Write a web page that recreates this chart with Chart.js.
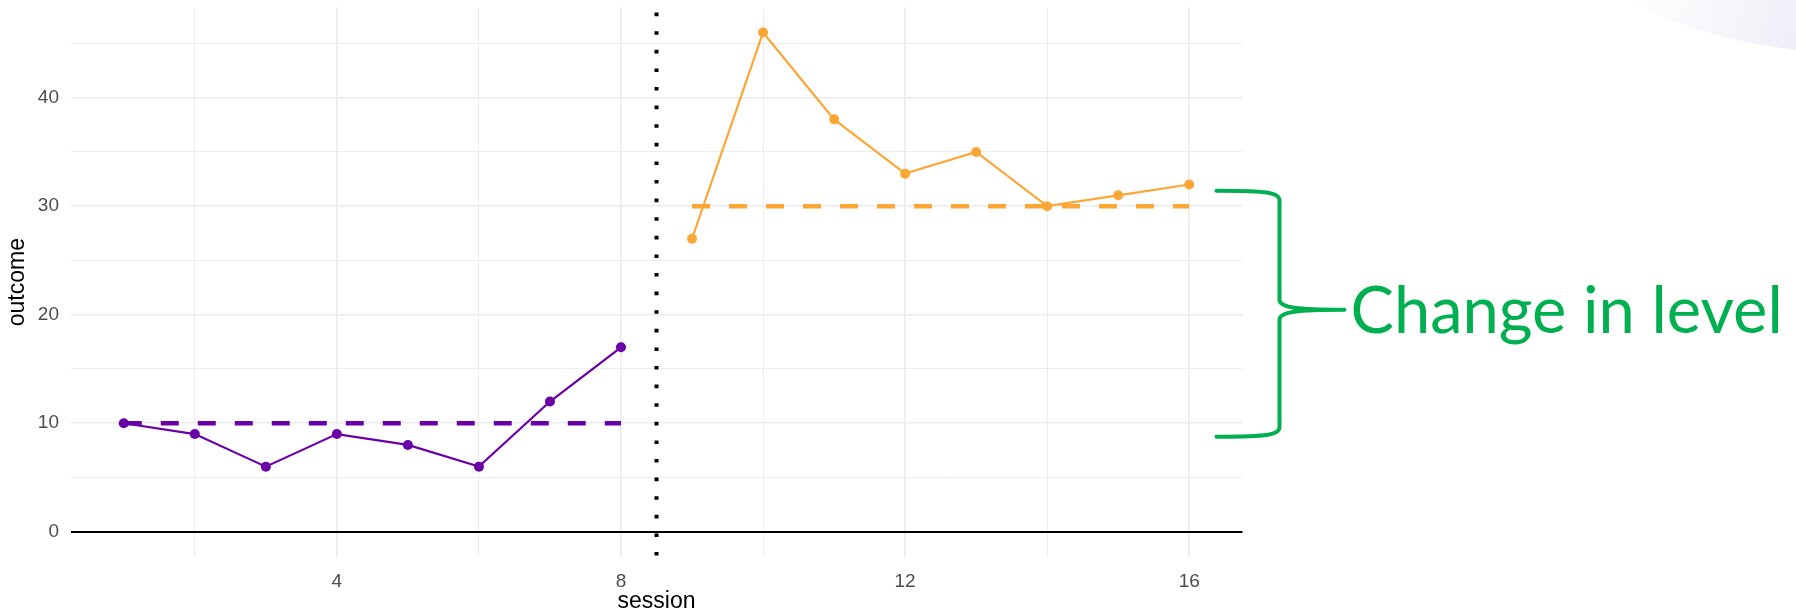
<!DOCTYPE html>
<html>
<head>
<meta charset="utf-8">
<script src="https://cdn.jsdelivr.net/npm/chart.js@4.4.0/dist/chart.umd.min.js"></script>
<style>
  body { margin: 0; background: #fff; }
  canvas { display: block; }
</style>
</head>
<body>
<canvas id="myChart" width="1796" height="611"></canvas>
<script>
// baseline (A) and treatment (B) phases
const baseSessions = [1, 2, 3, 4, 5, 6, 7, 8];
const baseOutcome = [10, 9, 6, 9, 8, 6, 12, 17];
const treatSessions = [9, 10, 11, 12, 13, 14, 15, 16];
const treatOutcome = [27, 46, 38, 33, 35, 30, 31, 32];

// phase levels (dashed lines)
const baseLevel = 10;
const treatLevel = 30;
const phaseChange = 8.5;

// axis ticks
const xTicks = [2, 4, 6, 8, 10, 12, 14, 16];
const xLabels = [4, 8, 12, 16];
const yTicks = [0, 5, 10, 15, 20, 25, 30, 35, 40, 45];
const yLabels = [0, 10, 20, 30, 40];

const xMin = 0.25, xMax = 16.75;
const yMin = -2.3, yMax = 48.3;

const purple = "#6A00A8";
const orange = "#FCA636";
const green = "#00B050";

function toPoints(xs, ys) {
    return xs.map((x, i) => ({ x: x, y: ys[i] }));
}

// faint swoosh in top right corner
const backdrop = {
    id: "backdrop",
    beforeDraw(chart) {
        const ctx = chart.ctx;
        ctx.save();
        const g = ctx.createLinearGradient(1610, 0, 1796, 60);
        g.addColorStop(0, "rgba(240,241,248,0)");
        g.addColorStop(1, "rgba(232,234,245,0.8)");
        ctx.fillStyle = g;
        ctx.beginPath();
        ctx.ellipse(1880, -75, 305, 130, 0, 0, Math.PI * 2);
        ctx.fill();
        ctx.restore();
    }
};

// curly brace + label showing the change in level
const levelBrace = {
    id: "levelBrace",
    afterDraw(chart) {
        const ctx = chart.ctx;
        const y = chart.scales.y;
        const area = chart.chartArea;
        const top = y.getPixelForValue(treatLevel) - 15.5;
        const bottom = y.getPixelForValue(baseLevel) + 13.5;
        const mid = (top + bottom) / 2 - 4;
        const x0 = area.right - 26;
        const xs = area.right + 37;
        const xt = area.right + 102;

        ctx.save();
        ctx.strokeStyle = green;
        ctx.lineWidth = 4;
        ctx.lineCap = "round";
        ctx.lineJoin = "round";
        ctx.beginPath();
        ctx.moveTo(x0, top);
        ctx.bezierCurveTo(xs - 10, top, xs, top + 2, xs, top + 10);
        ctx.lineTo(xs, mid - 10);
        ctx.bezierCurveTo(xs, mid - 2, xs + 18, mid, xt, mid);
        ctx.bezierCurveTo(xs + 18, mid, xs, mid + 2, xs, mid + 10);
        ctx.lineTo(xs, bottom - 10);
        ctx.bezierCurveTo(xs, bottom - 2, xs - 10, bottom, x0, bottom);
        ctx.stroke();

        ctx.fillStyle = green;
        ctx.font = "65px Lato, 'Open Sans', sans-serif";
        ctx.textAlign = "left";
        ctx.textBaseline = "alphabetic";
        ctx.fillText("Change in level", xt + 6, mid + 23);
        ctx.restore();
    }
};

Chart.defaults.font.family = "'Liberation Sans', Arial, sans-serif";

const data = {
    datasets: [
        {
            data: toPoints(baseSessions, baseOutcome),
            borderColor: purple,
            backgroundColor: purple,
            borderWidth: 2.2,
            pointRadius: 5,
            pointBorderWidth: 0,
            order: 0
        },
        {
            data: toPoints(treatSessions, treatOutcome),
            borderColor: orange,
            backgroundColor: orange,
            borderWidth: 2.2,
            pointRadius: 5,
            pointBorderWidth: 0,
            order: 0
        },
        {
            data: toPoints([baseSessions[0], baseSessions[baseSessions.length - 1]], [baseLevel, baseLevel]),
            borderColor: purple,
            borderWidth: 4.5,
            borderDash: [18, 19],
            borderCapStyle: "butt",
            pointRadius: 0,
            order: 1
        },
        {
            data: toPoints([treatSessions[0], treatSessions[treatSessions.length - 1]], [treatLevel, treatLevel]),
            borderColor: orange,
            borderWidth: 4.5,
            borderDash: [18, 19],
            borderCapStyle: "butt",
            pointRadius: 0,
            order: 1
        },
        {
            data: toPoints([phaseChange, phaseChange], [yMax, yMin]),
            borderColor: "#000",
            borderWidth: 4,
            borderDash: [3.6, 15],
            borderDashOffset: -5,
            borderCapStyle: "butt",
            pointRadius: 0,
            order: 2
        }
    ]
};

const config = {
    type: "line",
    data: data,
    options: {
        responsive: false,
        animation: false,
        layout: { padding: { left: 0, right: 553.5, top: 7.6, bottom: 0 } },
        plugins: {
            legend: { display: false },
            tooltip: { enabled: false }
        },
        scales: {
            x: {
                type: "linear",
                min: xMin,
                max: xMax,
                afterBuildTicks: (scale) => { scale.ticks = xTicks.map(v => ({ value: v })); },
                afterFit: (scale) => {
                    scale.height = 54.3;
                    scale.paddingLeft = 0;
                    scale.paddingRight = 0;
                },
                ticks: {
                    color: "#4d4d4d",
                    font: { size: 19 },
                    padding: 14,
                    maxRotation: 0,
                    callback: (v) => xLabels.includes(v) ? String(v) : ""
                },
                grid: {
                    drawTicks: false,
                    color: "#ebebeb",
                    lineWidth: (ctx) => xLabels.includes(ctx.tick.value) ? 1.6 : 0.9
                },
                border: { display: false },
                title: {
                    display: true,
                    text: "session",
                    color: "#000",
                    font: { size: 23 },
                    padding: { top: 0, bottom: -4 }
                }
            },
            y: {
                type: "linear",
                min: yMin,
                max: yMax,
                afterBuildTicks: (scale) => { scale.ticks = yTicks.map(v => ({ value: v })); },
                afterFit: (scale) => {
                    scale.width = 70.5;
                    scale.paddingTop = 0;
                    scale.paddingBottom = 0;
                },
                ticks: {
                    color: "#4d4d4d",
                    font: { size: 19 },
                    padding: 11.5,
                    callback: (v) => yLabels.includes(v) ? String(v) : ""
                },
                grid: {
                    drawTicks: false,
                    color: (ctx) => ctx.tick.value === 0 ? "#000" : "#ebebeb",
                    lineWidth: (ctx) => ctx.tick.value === 0 ? 2 : (yLabels.includes(ctx.tick.value) ? 1.6 : 0.9)
                },
                border: { display: false },
                title: {
                    display: true,
                    text: "outcome",
                    color: "#000",
                    font: { size: 23 },
                    padding: { top: 4, bottom: 0 }
                }
            }
        }
    },
    plugins: [backdrop, levelBrace]
};

const myChart = new Chart(document.getElementById("myChart"), config);
</script>
</body>
</html>
